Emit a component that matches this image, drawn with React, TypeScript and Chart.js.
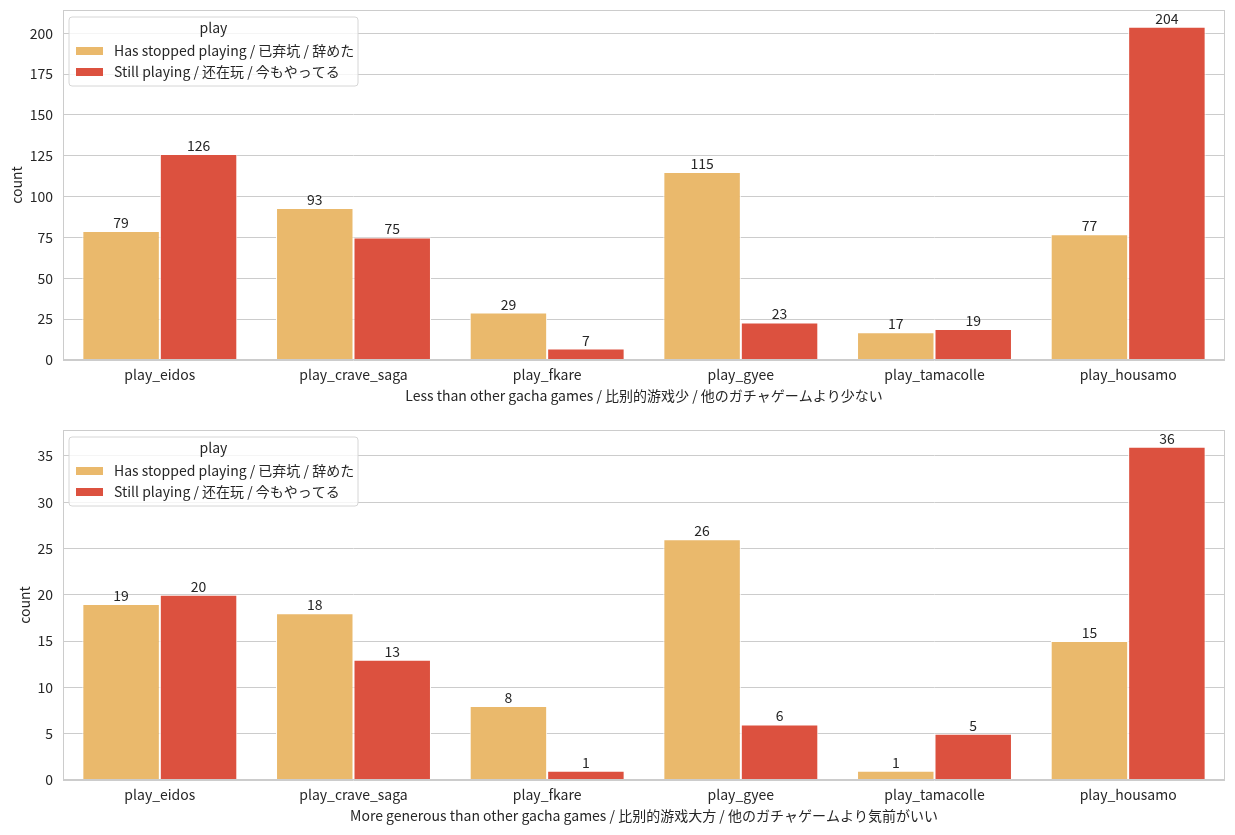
import React, { useEffect, useRef } from "react";
import { Chart, registerables } from "chart.js";
Chart.register(...registerables);

const categories = ["play_eidos", "play_crave_saga", "play_fkare", "play_gyee", "play_tamacolle", "play_housamo"];
const seriesNames = ["Has stopped playing / 已弃坑 / 辞めた", "Still playing / 还在玩 / 今もやってる"];
const lessStopped = [79, 93, 29, 115, 17, 77];
const lessStill = [126, 75, 7, 23, 19, 204];
const moreStopped = [19, 18, 8, 26, 1, 15];
const moreStill = [20, 13, 1, 6, 5, 36];
const lessTicks = [0, 25, 50, 75, 100, 125, 150, 175, 200];
const moreTicks = [0, 5, 10, 15, 20, 25, 30, 35];
const lessTitle = "Less than other gacha games / 比别的游戏少 / 他のガチャゲームより少ない";
const moreTitle = "More generous than other gacha games / 比别的游戏大方 / 他のガチャゲームより気前がいい";
const legendTitle = "play";
const yTitle = "count";
const colors = ["#EAB96C", "#DC513F"];

const FONT = "'Noto Sans CJK JP', 'Noto Sans CJK SC', sans-serif";
const FS = 14;
const GRID = "#cccccc";
const TEXT = "#262626";

type Cfg = {
  stopped: number[];
  still: number[];
  ticks: number[];
  title: string;
  padTop: number;
  xHeight: number;
  yTitlePad: number;
  xTitlePad: number;
};

const framePlugin = {
  id: "frame",
  afterDatasetsDraw(chart: any) {
    const { ctx, chartArea: a } = chart;
    ctx.save();
    ctx.strokeStyle = GRID;
    ctx.lineWidth = 1;
    ctx.strokeRect(Math.round(a.left) + 0.5, Math.round(a.top) + 0.5, Math.round(a.right - a.left) - 1, Math.round(a.bottom - a.top) - 1);
    ctx.restore();
  },
};

const valuePlugin = {
  id: "values",
  afterDatasetsDraw(chart: any) {
    const { ctx } = chart;
    ctx.save();
    ctx.font = `${FS}px ${FONT}`;
    ctx.fillStyle = TEXT;
    ctx.textAlign = "center";
    ctx.textBaseline = "alphabetic";
    chart.data.datasets.forEach((ds: any, i: number) => {
      const meta = chart.getDatasetMeta(i);
      meta.data.forEach((bar: any, j: number) => {
        ctx.fillText(String(ds.data[j]), bar.x, bar.y - 3);
      });
    });
    ctx.restore();
  },
};

const legendPlugin = {
  id: "innerLegend",
  afterDraw(chart: any) {
    const { ctx, chartArea: a } = chart;
    const x = a.left + 6;
    const y = a.top + 7;
    const w = 289;
    const h = 69;
    const r = 3;
    ctx.save();
    ctx.beginPath();
    ctx.moveTo(x + r, y);
    ctx.lineTo(x + w - r, y);
    ctx.arcTo(x + w, y, x + w, y + r, r);
    ctx.lineTo(x + w, y + h - r);
    ctx.arcTo(x + w, y + h, x + w - r, y + h, r);
    ctx.lineTo(x + r, y + h);
    ctx.arcTo(x, y + h, x, y + h - r, r);
    ctx.lineTo(x, y + r);
    ctx.arcTo(x, y, x + r, y, r);
    ctx.closePath();
    ctx.fillStyle = "rgba(255,255,255,0.8)";
    ctx.fill();
    ctx.strokeStyle = "#d6d6d6";
    ctx.lineWidth = 1;
    ctx.stroke();
    ctx.font = `${FS}px ${FONT}`;
    ctx.fillStyle = TEXT;
    ctx.textBaseline = "middle";
    ctx.textAlign = "center";
    ctx.fillText(legendTitle, x + w / 2, y + 11);
    ctx.textAlign = "left";
    seriesNames.forEach((name, i) => {
      const cy = y + 34 + i * 21;
      ctx.fillStyle = colors[i];
      ctx.fillRect(x + 7, cy - 4, 27, 8);
      ctx.fillStyle = TEXT;
      ctx.fillText(name, x + 45, cy);
    });
    ctx.restore();
  },
};

function makeChart(canvas: HTMLCanvasElement, c: Cfg) {
  const ymax = Math.max(...c.stopped, ...c.still) * 1.05;
  return new Chart(canvas, {
    type: "bar",
    data: {
      labels: categories,
      datasets: [
        { label: seriesNames[0], data: c.stopped, backgroundColor: colors[0], borderColor: "#ffffff", borderWidth: 1, borderSkipped: "bottom", categoryPercentage: 0.8, barPercentage: 1 },
        { label: seriesNames[1], data: c.still, backgroundColor: colors[1], borderColor: "#ffffff", borderWidth: 1, borderSkipped: "bottom", categoryPercentage: 0.8, barPercentage: 1 },
      ],
    } as any,
    options: {
      responsive: false,
      animation: false,
      devicePixelRatio: 1,
      layout: { padding: { top: c.padTop, right: 10, left: 0, bottom: 0 } },
      plugins: { legend: { display: false }, tooltip: { enabled: false } },
      scales: {
        x: {
          grid: { display: false, drawTicks: false },
          border: { display: false },
          ticks: { color: TEXT, font: { family: FONT, size: FS }, padding: 6, maxRotation: 0 },
          title: { display: true, text: c.title, color: TEXT, font: { family: FONT, size: FS }, padding: { top: 0, bottom: c.xTitlePad } },
          afterFit: (s: any) => { s.height = c.xHeight; s.paddingLeft = 0; s.paddingRight = 0; },
        },
        y: {
          min: 0,
          max: ymax,
          grid: { color: GRID, lineWidth: 1, drawTicks: false },
          border: { display: false },
          afterBuildTicks: (s: any) => { s.ticks = c.ticks.map((v) => ({ value: v })); },
          ticks: { color: TEXT, font: { family: FONT, size: FS }, padding: 10 },
          title: { display: true, text: yTitle, color: TEXT, font: { family: FONT, size: FS }, padding: { top: c.yTitlePad, bottom: 0 } },
          afterFit: (s: any) => { s.width = 63; s.paddingTop = 0; s.paddingBottom = 0; },
        },
      },
    } as any,
    plugins: [framePlugin, valuePlugin, legendPlugin],
  });
}

export default function App() {
  const r1 = useRef<HTMLCanvasElement>(null);
  const r2 = useRef<HTMLCanvasElement>(null);
  useEffect(() => {
    const c1 = makeChart(r1.current!, { stopped: lessStopped, still: lessStill, ticks: lessTicks, title: lessTitle, padTop: 10, xHeight: 58, yTitlePad: 8, xTitlePad: 13.5 });
    const c2 = makeChart(r2.current!, { stopped: moreStopped, still: moreStill, ticks: moreTicks, title: moreTitle, padTop: 12, xHeight: 55, yTitlePad: 16, xTitlePad: 10.5 });
    return () => { c1.destroy(); c2.destroy(); };
  }, []);
  return (
    <div style={{ position: "fixed", left: 0, top: 0, width: 1235, height: 835, background: "#fff" }}>
      <canvas ref={r1} width={1235} height={418} style={{ position: "absolute", left: 0, top: 0 }} />
      <canvas ref={r2} width={1235} height={417} style={{ position: "absolute", left: 0, top: 418 }} />
    </div>
  );
}
